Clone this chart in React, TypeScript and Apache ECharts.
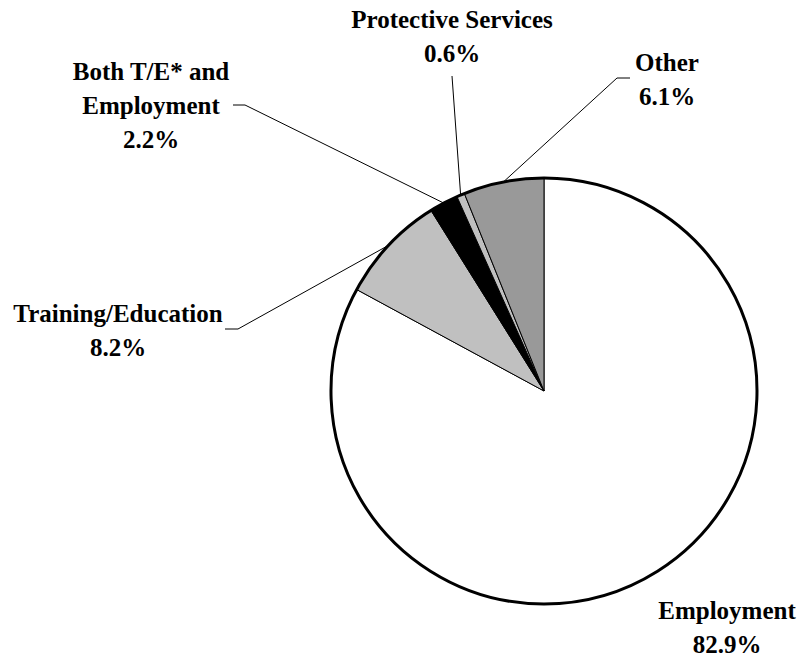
import React, { useEffect, useRef } from "react";
import * as echarts from "echarts";

// Data
const categories = ["Employment", "Training/Education", "Both T/E* and Employment", "Protective Services", "Other"];
const labelNames = ["Employment", "Training/Education", "Both T/E* and\nEmployment", "Protective Services", "Other"];
const values = [82.9, 8.2, 2.2, 0.6, 6.1];
const colors = ["#ffffff", "#c0c0c0", "#000000", "#c0c0c0", "#999999"];

// Layout (label centres, and leader-line end/elbow points)
const labelCenters: number[][] = [
  [727, 627],
  [118, 330],
  [151, 105],
  [452, 36],
  [667, 79],
];
const leaderEnds: (number[][] | null)[] = [
  null,
  [[225, 329], [238, 329]],
  [[233, 105], [245, 105]],
  [[452, 76]],
  [[630, 78], [617, 78]],
];

export default function App() {
  const ref = useRef<HTMLDivElement>(null);
  useEffect(() => {
    if (!ref.current) return;
    const chart = echarts.init(ref.current, undefined, { renderer: "svg" });
    const font = {
      fontFamily: "Liberation Serif",
      fontWeight: "bold" as const,
      fontSize: 25,
      lineHeight: 34,
      color: "#000",
    };
    chart.setOption({
      animation: false,
      backgroundColor: "#fff",
      series: [
        {
          type: "pie",
          center: [544, 391],
          radius: 213,
          startAngle: 90,
          clockwise: true,
          avoidLabelOverlap: false,
          data: categories.map((c, i) => ({
            name: c,
            value: values[i],
            itemStyle: { color: colors[i] },
            labelLine: { show: i !== 0 },
          })),
          itemStyle: { borderColor: "#000", borderWidth: 1 },
          label: {
            show: true,
            position: "outside",
            align: "center",
            formatter: (p: any) => `${labelNames[p.dataIndex]}\n${values[p.dataIndex].toFixed(1)}%`,
            ...font,
          },
          labelLine: {
            show: true,
            length: 10,
            length2: 10,
            lineStyle: { color: "#000", width: 1 },
          },
          labelLayout: (p: any) => {
            const i = p.dataIndex;
            const c = labelCenters[i];
            const out: any = { x: c[0], y: c[1], align: "center", verticalAlign: "middle" };
            const ends = leaderEnds[i];
            if (ends && p.labelLinePoints) {
              const edge = p.labelLinePoints[0];
              out.labelLinePoints = ends.length === 2
                ? [edge, ends[1], ends[0]]
                : [edge, ends[0], ends[0]];
            }
            return out;
          },
          emphasis: { disabled: true },
        },
        {
          type: "pie",
          center: [544, 391],
          radius: 213,
          silent: true,
          label: { show: false },
          labelLine: { show: false },
          data: [{ value: 1, name: "outline", itemStyle: { color: "rgba(0,0,0,0)", borderColor: "#000", borderWidth: 3 } }],
          emphasis: { disabled: true },
        },
      ],
    });
    return () => chart.dispose();
  }, []);
  return <div ref={ref} style={{ position: "fixed", left: 0, top: 0, width: 799, height: 656 }} />;
}
